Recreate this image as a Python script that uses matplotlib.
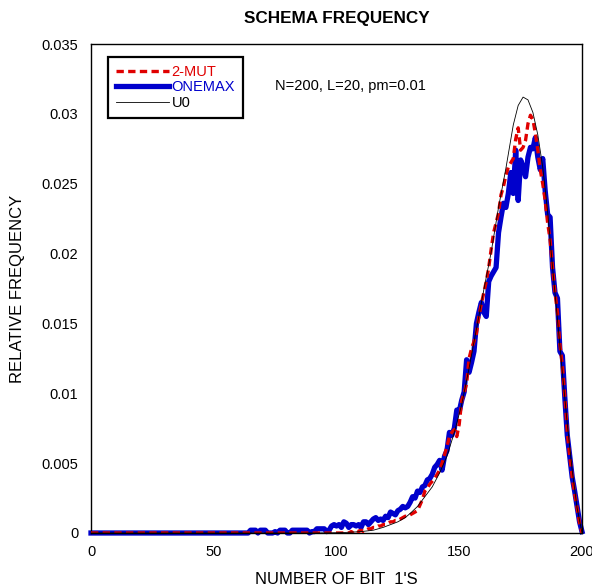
import matplotlib
matplotlib.use('Agg')
import matplotlib.pyplot as plt

plt.rcParams['font.family'] = ['Liberation Sans', 'DejaVu Sans']

# number of bit 1's (0..200)
x = list(range(201))

# ONEMAX (blue)
onemax = [0.0] * 64 + [
    0.0000, 0.0002, 0.0002, 0.0002, 0.0000, 0.0002, 0.0002, 0.0002, 0.0000, 0.0000,  # 64-73
    0.0000, 0.0001, 0.0000, 0.0002, 0.0002, 0.0002, 0.0000, 0.0000, 0.0002, 0.0002,  # 74-83
    0.0002, 0.0002, 0.0002, 0.0002, 0.0002, 0.0000, 0.0001, 0.0001, 0.0003, 0.0003,  # 84-93
    0.0003, 0.0003, 0.0001, 0.0002, 0.0005, 0.0006,  # 94-99
    0.0005, 0.0006, 0.0004, 0.0008, 0.0007, 0.0004, 0.0006, 0.0006, 0.0005, 0.0006,  # 100-109
    0.0004, 0.0008, 0.0008, 0.0006, 0.0008, 0.0010, 0.0011, 0.0009, 0.0010, 0.0009,  # 110-119
    0.0012, 0.0011, 0.0015, 0.0014, 0.0013, 0.0016, 0.0017, 0.0019, 0.0018, 0.0019,  # 120-129
    0.0022, 0.0026, 0.0025, 0.0030, 0.0029, 0.0033, 0.0034, 0.0038, 0.0039, 0.0042,  # 130-139
    0.0047, 0.0049, 0.0052, 0.0045, 0.0055, 0.0059, 0.0072, 0.0070, 0.0075, 0.0088,  # 140-149
    0.0087, 0.0095, 0.0101, 0.0124, 0.0115, 0.0122, 0.0130, 0.0150, 0.0158, 0.0165,  # 150-159
    0.0158, 0.0155, 0.0180, 0.0184, 0.0187, 0.0190, 0.0215, 0.0226, 0.0236, 0.0233,  # 160-169
    0.0243, 0.0258, 0.0243, 0.0274, 0.0238, 0.0267, 0.0262, 0.0255, 0.0269, 0.0276,  # 170-179
    0.0275, 0.0283, 0.0269, 0.0260, 0.0268, 0.0245, 0.0228, 0.0226, 0.0190, 0.0172,  # 180-189
    0.0168, 0.0130, 0.0127, 0.0097, 0.0070, 0.0055, 0.0040, 0.0030, 0.0019, 0.0008,  # 190-199
    0.0001,  # 200
]

# 2-MUT (red dashed)
mut2 = [0.0] * 106 + [
    0.0001, 0.0000, 0.0002, 0.0001,  # 106-109
    0.0002, 0.0001, 0.0002, 0.0003, 0.0003, 0.0004, 0.0004, 0.0005, 0.0005, 0.0006,  # 110-119
    0.0006, 0.0007, 0.0008, 0.0008, 0.0009, 0.0009, 0.0010, 0.0011, 0.0012, 0.0012,  # 120-129
    0.0013, 0.0014, 0.0015, 0.0016, 0.0020, 0.0024, 0.0030, 0.0032, 0.0035, 0.0037,  # 130-139
    0.0039, 0.0042, 0.0045, 0.0050, 0.0056, 0.0062, 0.0069, 0.0072, 0.0074, 0.0069,  # 140-149
    0.0078, 0.0095, 0.0100, 0.0107, 0.0125, 0.0132, 0.0137, 0.0143, 0.0155, 0.0164,  # 150-159
    0.0172, 0.0180, 0.0190, 0.0203, 0.0215, 0.0222, 0.0229, 0.0242, 0.0248, 0.0256,  # 160-169
    0.0262, 0.0265, 0.0268, 0.0282, 0.0290, 0.0274, 0.0276, 0.0281, 0.0293, 0.0299,  # 170-179
    0.0296, 0.0286, 0.0274, 0.0260, 0.0250, 0.0238, 0.0222, 0.0210, 0.0190, 0.0172,  # 180-189
    0.0158, 0.0135, 0.0120, 0.0098, 0.0072, 0.0055, 0.0040, 0.0028, 0.0018, 0.0007,  # 190-199
    0.0000,  # 200
]

# U0 (thin black, smooth)
u0_x = [0, 90, 100, 105, 110, 115, 119, 122, 125, 128, 130, 133, 136, 139, 142, 145,
        148, 151, 154, 157, 160, 163, 166, 169, 172, 174, 176, 178, 180, 182, 184,
        186, 188, 190, 192, 194, 196, 198, 200]
u0_y = [0.0, 0.0, 0.00002, 0.00005, 0.0001, 0.0002, 0.0004, 0.0006, 0.0008, 0.0011,
        0.0014, 0.0019, 0.0026, 0.0033, 0.0043, 0.0055, 0.0072, 0.0092, 0.0118,
        0.0146, 0.0174, 0.0201, 0.0233, 0.0261, 0.0292, 0.0306, 0.0312, 0.0310,
        0.0301, 0.0285, 0.0262, 0.0230, 0.0190, 0.0153, 0.0115, 0.0078, 0.0045,
        0.0018, 0.0]

fig = plt.figure(figsize=(5.92, 5.88), dpi=100)
ax = fig.add_axes([91/592, 55/588, 491/592, 489/588])

l1, = ax.plot(x, mut2, color='#E00000', lw=2.4, ls=(0, (2.2, 1.3)), label='2-MUT', zorder=3)
l2, = ax.plot(x, onemax, color='#0000CC', lw=3.8, label='ONEMAX', zorder=2, clip_on=False)
l3, = ax.plot(u0_x, u0_y, color='black', lw=0.6, label='U0', zorder=4)

ax.set_xlim(0, 200)
ax.set_ylim(0, 0.035)
ax.set_xticks([0, 50, 100, 150, 200])
ax.set_yticks([0, 0.005, 0.01, 0.015, 0.02, 0.025, 0.03, 0.035])
ax.set_yticklabels(['0', '0.005', '0.01', '0.015', '0.02', '0.025', '0.03', '0.035'])
ax.tick_params(length=0, labelsize=10.5, pad=9)
for s in ax.spines.values():
    s.set_linewidth(1.0)

ax.set_title('SCHEMA FREQUENCY', fontsize=12.3, fontweight='bold', pad=15)
ax.set_xlabel("NUMBER OF BIT  1'S", fontsize=12, labelpad=9)
ax.set_ylabel('RELATIVE FREQUENCY', fontsize=12, labelpad=12)

leg = ax.legend(handles=[l1, l2, l3], loc='upper left', bbox_to_anchor=(0.035, 0.974),
                fontsize=10.5, handlelength=3.6, handletextpad=0.2, labelspacing=0.1,
                borderpad=0.55, borderaxespad=0, fancybox=False, framealpha=1, edgecolor='black')
leg.get_frame().set_linewidth(1.6)
for txt, c in zip(leg.get_texts(), ['#E00000', '#0000CC', 'black']):
    txt.set_color(c)

ax.text(0.375, 0.905, 'N=200, L=20, pm=0.01', transform=ax.transAxes, fontsize=10.5)

fig.savefig('out.png', dpi=100)
